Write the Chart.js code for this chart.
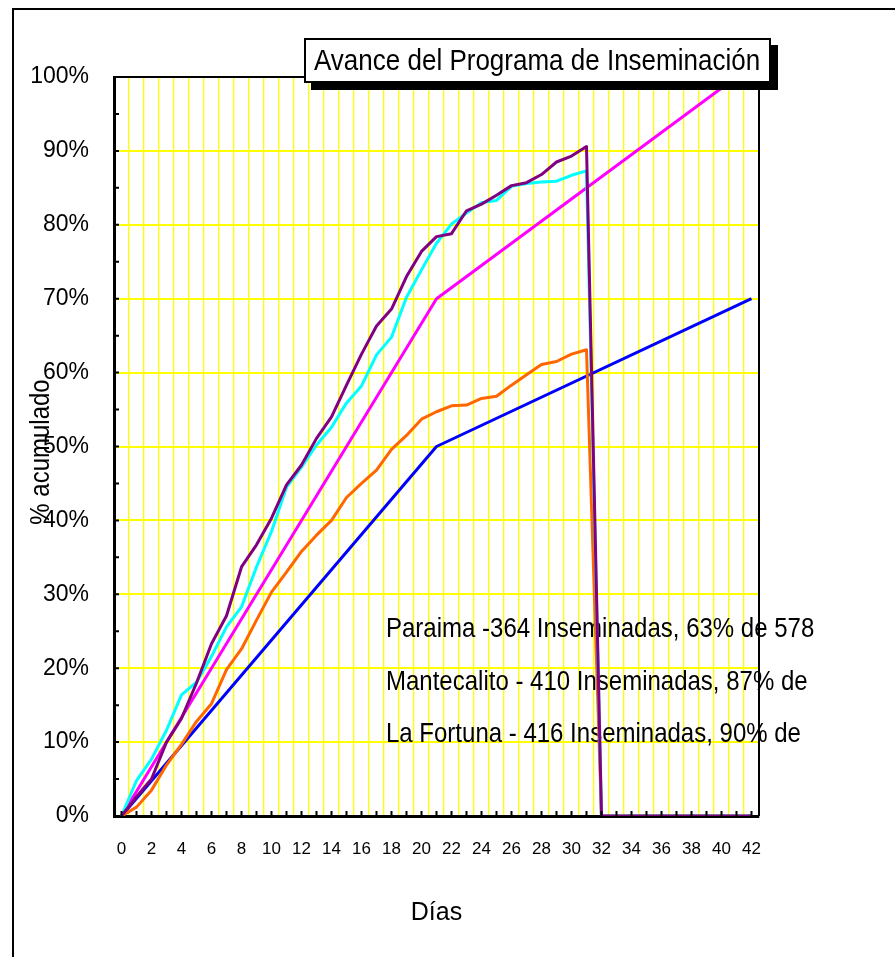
<!DOCTYPE html>
<html>
<head>
<meta charset="utf-8">
<title>Avance del Programa de Inseminación</title>
<script src="https://cdn.jsdelivr.net/npm/chart.js@4.4.1/dist/chart.umd.min.js"></script>
<style>
  html, body { margin: 0; padding: 0; background: #fff; overflow: hidden; }
  #frame { position: absolute; left: 12px; top: 8px; width: 1000px; height: 1000px; border: 2px solid #000; box-sizing: border-box; }
  #wrap { position: absolute; left: 0; top: 0; width: 895px; height: 957px; }
  #titulo {
    position: absolute; left: 304px; top: 38px; width: 467px; height: 45px;
    box-sizing: border-box; border: 2px solid #000; background: #fff;
    box-shadow: 7px 7px 0 #000;
    font-family: 'Liberation Sans', Arial, sans-serif;
    font-size: 26px; line-height: 41px; padding-left: 8px; white-space: nowrap; color: #000;
  }
  #titulo span { display: inline-block; transform: scaleY(1.17); transform-origin: 50% 55%; }
</style>
</head>
<body>
<div id="frame"></div>
<div id="wrap"><canvas id="avanceChart"></canvas></div>
<div id="titulo"><span>Avance del Programa de Inseminación</span></div>
<script>
// dias del programa
const dias = [0, 1, 2, 3, 4, 5, 6, 7, 8, 9, 10, 11, 12, 13, 14, 15, 16, 17, 18, 19, 20,
  21, 22, 23, 24, 25, 26, 27, 28, 29, 30, 31, 32, 33, 34, 35, 36, 37, 38, 39, 40, 41, 42];

// % acumulado por finca
const laFortuna = [0, 2.6, 5.0, 10.0, 13.2, 18.0, 23.3, 27.1, 33.7, 36.7, 40.3, 44.8, 47.5, 51.1,
  54.0, 58.3, 62.5, 66.3, 68.6, 73.0, 76.4, 78.4, 78.8, 81.9, 82.8, 84.0, 85.3, 85.7, 86.8,
  88.5, 89.3, 90.6, 0, 0, 0, 0, 0, 0, 0, 0, 0, 0, 0];
const mantecalito = [0, 4.8, 7.7, 11.6, 16.4, 18.1, 21.6, 25.6, 28.3, 33.7, 38.5, 44.5, 47.2, 50.2,
  52.6, 55.9, 58.2, 62.4, 64.8, 70.2, 73.9, 77.5, 80.1, 81.6, 83.0, 83.3, 85.2, 85.6, 85.8,
  85.9, 86.7, 87.3, 0, 0, 0, 0, 0, 0, 0, 0, 0, 0, 0];
const paraima = [0, 1.2, 3.5, 6.9, 9.7, 12.8, 15.2, 19.8, 22.6, 26.5, 30.3, 33.0, 35.8, 38.0,
  40.0, 43.1, 45.0, 46.8, 49.6, 51.5, 53.7, 54.7, 55.5, 55.6, 56.5, 56.8, 58.3, 59.7, 61.1,
  61.5, 62.5, 63.1, 0, 0, 0, 0, 0, 0, 0, 0, 0, 0, 0];

// metas (solo los quiebres)
const metaAltaDias = [0, 21, 41];
const metaAlta = [0, 70, 100];
const metaBajaDias = [0, 21, 42];
const metaBaja = [0, 50, 70];

const notas = [
  'Paraima -364 Inseminadas, 63% de 578',
  'Mantecalito - 410 Inseminadas, 87% de',
  'La Fortuna - 416 Inseminadas, 90% de'
];

const sans = "'Liberation Sans', Arial, sans-serif";

function puntos(xs, ys) {
  return xs.map((d, i) => ({ x: d, y: ys[i] }));
}

function serie(label, data, color) {
  return {
    label: label,
    data: data,
    borderColor: color,
    backgroundColor: color,
    borderWidth: 3,
    borderJoinStyle: 'round',
    pointRadius: 0,
    tension: 0,
    fill: false,
    spanGaps: true
  };
}

// textos, marcas internas y borde del area
const decorado = {
  id: 'decorado',
  beforeDatasetsDraw(chart) {
    const ctx = chart.ctx;
    ctx.save();
    ctx.fillStyle = '#000';
    ctx.font = '24px ' + sans;
    ctx.textAlign = 'left';
    ctx.textBaseline = 'alphabetic';
    notas.forEach((t, i) => {
      ctx.save();
      ctx.translate(386, 637 + i * 52.5);
      ctx.scale(1, 1.16);
      ctx.fillText(t, 0, 0);
      ctx.restore();
    });
    ctx.translate(41, 452);
    ctx.rotate(-Math.PI / 2);
    ctx.scale(1, 1.15);
    ctx.textAlign = 'center';
    ctx.textBaseline = 'middle';
    ctx.font = '24px ' + sans;
    ctx.fillText('% acumulado', 0, 0);
    ctx.restore();
  },
  afterDraw(chart) {
    const { ctx, chartArea: a, scales } = chart;
    ctx.save();
    ctx.strokeStyle = '#000';
    ctx.lineWidth = 2;
    ctx.beginPath();
    ctx.moveTo(a.left, a.top);
    ctx.lineTo(a.right, a.top);
    ctx.lineTo(a.right, a.bottom);
    ctx.stroke();
    ctx.beginPath();
    dias.forEach((d, i) => {
      const x = scales.x.getPixelForValue(i);
      ctx.moveTo(x, a.bottom);
      ctx.lineTo(x, a.bottom - 5);
    });
    for (let v = 5; v < 100; v += 5) {
      const y = scales.y.getPixelForValue(v);
      ctx.moveTo(a.left, y);
      ctx.lineTo(a.left + 5, y);
    }
    ctx.stroke();
    ctx.restore();
  }
};

new Chart(document.getElementById('avanceChart'), {
  type: 'line',
  data: {
    labels: dias,
    datasets: [
      serie('La Fortuna', laFortuna, '#800080'),
      serie('Mantecalito', mantecalito, '#00FFFF'),
      serie('Paraima', paraima, '#FF6600'),
      serie('Meta 100%', puntos(metaAltaDias, metaAlta), '#FF00FF'),
      serie('Meta 70%', puntos(metaBajaDias, metaBaja), '#0000FF')
    ]
  },
  options: {
    responsive: true,
    maintainAspectRatio: false,
    animation: false,
    layout: { padding: { left: 0, top: 77, right: 136, bottom: 0 } },
    plugins: {
      legend: { display: false },
      tooltip: { enabled: false },
      title: { display: false }
    },
    scales: {
      x: {
        type: 'category',
        offset: true,
        afterFit: (scale) => { scale.height = 141; },
        grid: { offset: true, color: '#FFFF00', lineWidth: 1.3, drawTicks: false },
        border: { color: '#000', width: 3 },
        ticks: {
          autoSkip: false,
          maxRotation: 0,
          padding: 23,
          color: '#000',
          font: { family: sans, size: 17 },
          callback: function (value) {
            const d = this.getLabelForValue(value);
            return d % 2 === 0 ? String(d) : '';
          }
        },
        title: {
          display: true,
          text: 'Días',
          color: '#000',
          font: { family: sans, size: 25 },
          padding: { top: 0, bottom: 29 }
        }
      },
      y: {
        min: 0,
        max: 100,
        afterFit: (scale) => { scale.width = 114; },
        grid: { color: '#FFFF00', lineWidth: 2, drawTicks: false },
        border: { color: '#000', width: 3 },
        ticks: {
          stepSize: 10,
          padding: 25,
          color: '#000',
          font: { family: sans, size: 23 },
          callback: (v) => v + '%'
        }
      }
    }
  },
  plugins: [decorado]
});
</script>
</body>
</html>
